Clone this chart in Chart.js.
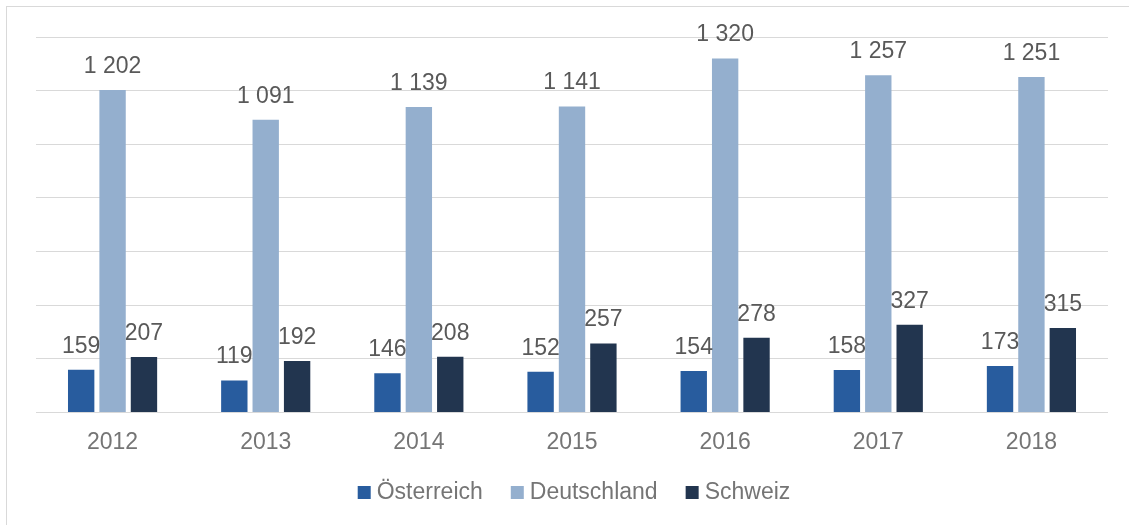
<!DOCTYPE html>
<html>
<head>
<meta charset="utf-8">
<script src="https://cdn.jsdelivr.net/npm/chart.js@4.4.3/dist/chart.umd.min.js"></script>
<style>
  html, body { margin: 0; padding: 0; background: #fff; }
  #wrap { width: 1129px; height: 525px; position: relative; }
</style>
</head>
<body>
<div id="wrap"><canvas id="chart"></canvas></div>
<script>
const years = ['2012', '2013', '2014', '2015', '2016', '2017', '2018'];
const oesterreich = [159, 119, 146, 152, 154, 158, 173];
const deutschland = [1202, 1091, 1139, 1141, 1320, 1257, 1251];
const schweiz = [207, 192, 208, 257, 278, 327, 315];

const FONT = '"Liberation Sans", Arial, sans-serif';

function fmt(v) {
  return String(v).replace(/\B(?=(\d{3})+(?!\d))/g, ' ');
}

// outer frame of the chart object
const framePlugin = {
  id: 'frame',
  beforeDraw(chart) {
    const ctx = chart.ctx;
    ctx.save();
    ctx.fillStyle = '#fff';
    ctx.fillRect(0, 0, chart.width, chart.height);
    ctx.strokeStyle = '#d9d9d9';
    ctx.lineWidth = 1;
    ctx.strokeRect(6.5, 6.5, chart.width + 20, chart.height + 20);
    ctx.restore();
  }
};

// value labels above each bar
const valueLabels = {
  id: 'valueLabels',
  afterDatasetsDraw(chart) {
    const ctx = chart.ctx;
    ctx.save();
    ctx.font = '23px ' + FONT;
    ctx.fillStyle = '#595959';
    ctx.textAlign = 'center';
    ctx.textBaseline = 'alphabetic';
    chart.data.datasets.forEach((ds, i) => {
      chart.getDatasetMeta(i).data.forEach((bar, j) => {
        ctx.fillText(fmt(ds.data[j]), bar.x, bar.y - 17);
      });
    });
    ctx.restore();
  }
};

// legend in the Excel style: small square, narrow gap, text
const bottomLegend = {
  id: 'bottomLegend',
  afterDraw(chart) {
    const ctx = chart.ctx;
    const box = 13, gap = 6, spacing = 28;
    const baseline = 499;
    ctx.save();
    ctx.font = '23px ' + FONT;
    ctx.textBaseline = 'alphabetic';
    ctx.textAlign = 'left';
    const items = chart.data.datasets.map(ds => ({
      label: ds.label, color: ds.backgroundColor, w: ctx.measureText(ds.label).width
    }));
    const total = items.reduce((s, it) => s + box + gap + it.w, 0) + spacing * (items.length - 1);
    const area = chart.chartArea;
    let x = (area.left + area.right) / 2 + 2 - total / 2;
    items.forEach(it => {
      ctx.fillStyle = it.color;
      ctx.fillRect(x, baseline - box, box, box);
      ctx.fillStyle = '#757575';
      ctx.fillText(it.label, x + box + gap, baseline);
      x += box + gap + it.w + spacing;
    });
    ctx.restore();
  }
};

new Chart(document.getElementById('chart'), {
  type: 'bar',
  data: {
    labels: years,
    datasets: [
      { label: 'Österreich', data: oesterreich, backgroundColor: '#285C9E' },
      { label: 'Deutschland', data: deutschland, backgroundColor: '#94AFCE' },
      { label: 'Schweiz', data: schweiz, backgroundColor: '#22354F' }
    ]
  },
  options: {
    responsive: true,
    maintainAspectRatio: false,
    animation: false,
    events: [],
    datasets: {
      bar: { categoryPercentage: 0.615, barPercentage: 0.84 }
    },
    layout: { padding: { left: 36, right: 21, top: 37, bottom: 53 } },
    scales: {
      x: {
        grid: { display: false, drawTicks: false },
        border: { display: false },
        ticks: { color: '#757575', font: { family: FONT, size: 23 }, padding: 16 }
      },
      y: {
        min: 0,
        max: 1400,
        ticks: { display: false, stepSize: 200 },
        grid: { color: '#d9d9d9', lineWidth: 1, drawTicks: false },
        border: { display: false }
      }
    },
    plugins: {
      tooltip: { enabled: false },
      legend: { display: false }
    }
  },
  plugins: [framePlugin, valueLabels, bottomLegend]
});
</script>
</body>
</html>
